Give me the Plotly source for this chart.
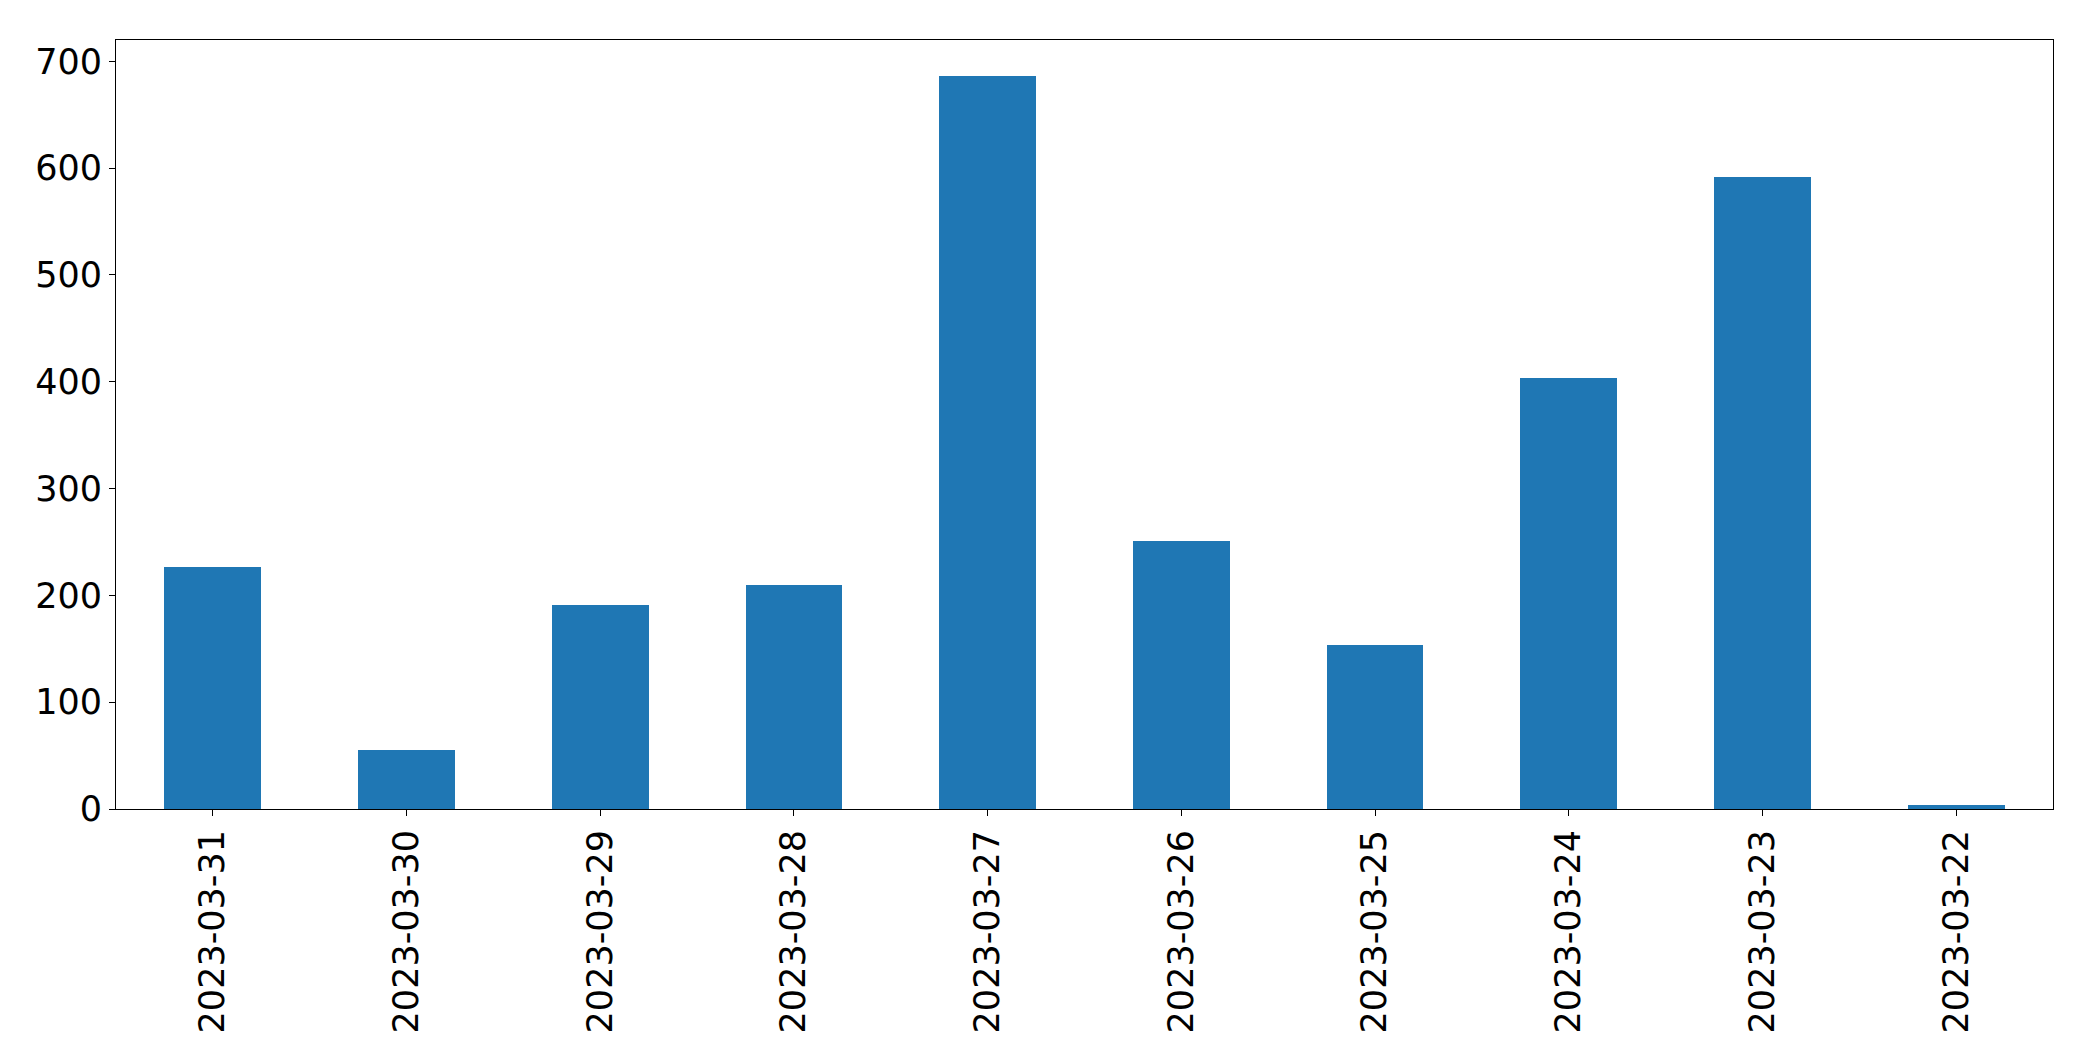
import plotly.graph_objects as go

dates = ["2023-03-31", "2023-03-30", "2023-03-29", "2023-03-28", "2023-03-27",
         "2023-03-26", "2023-03-25", "2023-03-24", "2023-03-23", "2023-03-22"]
counts = [227, 55, 191, 210, 686, 251, 154, 404, 592, 4]
y_ticks = [0, 100, 200, 300, 400, 500, 600, 700]

fig = go.Figure(go.Bar(x=list(range(len(dates))), y=counts, width=0.5,
                       marker=dict(color="#1f77b4", line=dict(width=0))))

fig.update_layout(
    width=2093, height=1061,
    margin=dict(l=108, r=48, t=32, b=260),
    paper_bgcolor="white", plot_bgcolor="white",
    font=dict(family="DejaVu Sans", size=35, color="black"),
    showlegend=False,
    bargap=0,
)
fig.update_xaxes(
    range=[-0.5, len(dates) - 0.5],
    tickmode="array", tickvals=list(range(len(dates))), ticktext=dates,
    tickangle=-90, ticks="outside", ticklen=6, tickwidth=1, tickcolor="black",
    showline=True, linecolor="black", linewidth=1, mirror=True,
    showgrid=False, zeroline=False,
)
fig.update_yaxes(
    range=[0, 720],
    tickmode="array", tickvals=y_ticks,
    ticks="outside", ticklen=6, tickwidth=1, tickcolor="black",
    showline=True, linecolor="black", linewidth=1, mirror=True,
    showgrid=False, zeroline=False,
)

fig.write_html("out.html")
